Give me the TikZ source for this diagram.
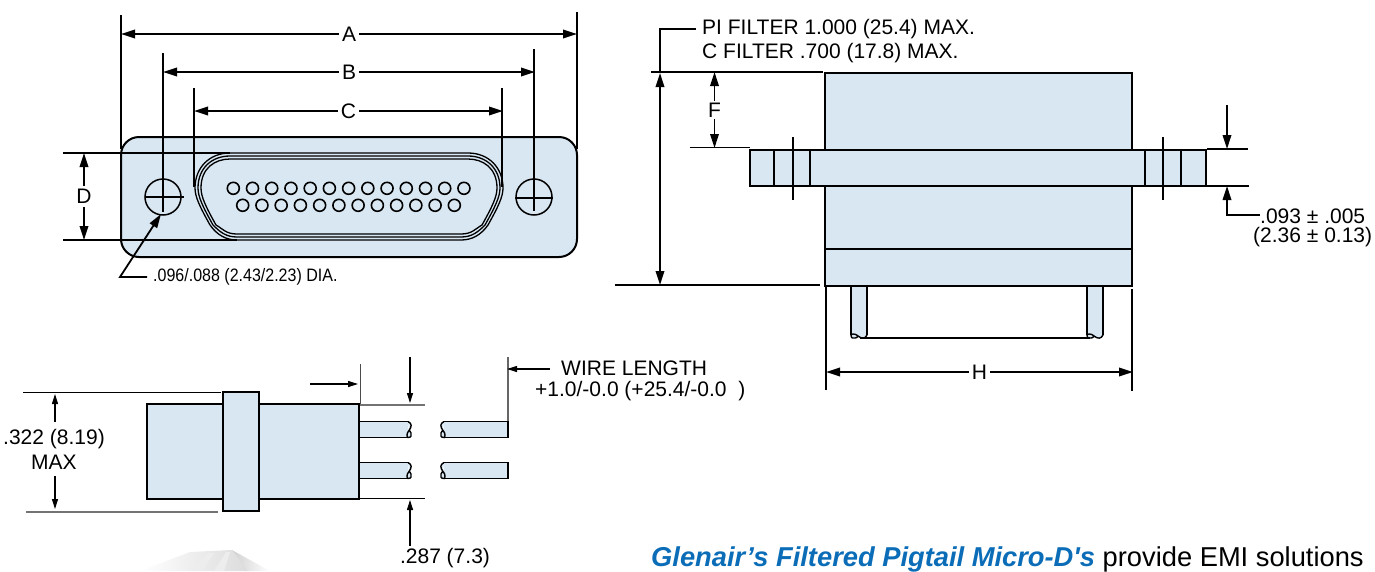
\documentclass[tikz,border=0pt]{standalone}
\usepackage{fontspec}
\setmainfont{Liberation Sans}[Ligatures=TeXOff]
\usetikzlibrary{arrows.meta}
\definecolor{panelblue}{HTML}{D8E7F2}
\definecolor{glenairblue}{HTML}{0B6DB7}
\tikzset{
  panel/.style={draw=black, fill=panelblue, line width=2pt},
  extline/.style={draw=black, line width=1.4pt},
  dimline/.style={draw=black, line width=1.8pt, {Triangle[length=14pt,width=8.5pt]}-{Triangle[length=14pt,width=8.5pt]}},
  tipend/.style={draw=black, line width=1.8pt, -{Triangle[length=14pt,width=8.5pt]}},
  thintip/.style={draw=black, line width=1.1pt, -{Triangle[length=10pt,width=6pt]}},
  dimlabel/.style={font=\fontsize{21}{21}\selectfont, fill=white, inner sep=3pt},
  notetext/.style={font=\fontsize{21}{23}\selectfont, inner sep=0pt, align=center},
  wirebreak/.pic={
    \filldraw[fill=panelblue, draw=black, line width=1.4pt] (0,0) .. controls (4,2) and (4,5) .. (1,9)
      .. controls (-2,12) and (-1,16) .. (0,16) .. controls (3,16) and (4,14) .. (3,11.5)
      .. controls (2.5,10) and (1.5,9) .. (1,9);
  }
}
\begin{document}
\begin{tikzpicture}[x=1pt, y=-1pt]
  \useasboundingbox (0,0) rectangle (1375,571);
  % faint swoosh along the bottom edge
  \begin{scope}
    \clip (0,0) rectangle (1375,571);
    \shade[left color=white, right color=black!14] (140,571) -- (190,552) -- (232,550) -- (250,571) -- cycle;
    \shade[left color=black!18, right color=white] (232,550) -- (270,571) -- (248,571) -- cycle;
    \fill[black!7] (190,571) -- (208,553) -- (214,553) -- (202,571) -- cycle;
    \fill[black!7] (214,571) -- (226,552) -- (230,552) -- (224,571) -- cycle;
  \end{scope}

  % front view
  \draw[panel, rounded corners=18pt] (121,137) rectangle (577,257);
  \foreach \d in {0, 3, 6} {
    \draw[line width=1.3pt] (230,{153+\d}) -- (468,{153+\d})
      .. controls ({489-\d},{153+\d}) and ({503-\d},168) .. ({503-\d},188)
      .. controls ({503-\d},197) and ({498-\d},207) .. ({488-\d},225)
      .. controls ({481-\d},{235-\d}) and (472,{240-\d}) .. (461,{240-\d})
      -- (237,{240-\d})
      .. controls (226,{240-\d}) and ({217+\d},{235-\d}) .. ({210+\d},225)
      .. controls ({200+\d},207) and ({195+\d},197) .. ({195+\d},188)
      .. controls ({195+\d},168) and ({209+\d},{153+\d}) .. (230,{153+\d});
  }
  \foreach \i in {0,...,12}
    \draw[line width=1.6pt, shift={({233.3+19.22*\i},188.3)}] (0,0) circle (6);
  \foreach \i in {0,...,11}
    \draw[line width=1.6pt, shift={({242.7+19.24*\i},205.3)}] (0,0) circle (6);
  \foreach \x in {163, 534}
    \draw[line width=1.5pt] (\x,197) circle (18);
  \draw[extline] (145,197) -- (184,197);
  \draw[extline] (515,198) -- (553,198);
  \draw[extline] (121,15) -- (121,149);
  \draw[extline] (577,12) -- (577,149);
  \draw[extline] (163,53) -- (163,212);
  \draw[extline] (534,49) -- (534,211);
  \draw[extline] (194,88) -- (194,187);
  \draw[extline] (502,88) -- (502,187);
  \draw[extline] (63,153) -- (230,153);
  \draw[extline] (63,240) -- (237,240);
  \draw[dimline] (121,34) -- (577,34) node[midway, dimlabel] (dimA) {A};
  \draw[dimline] (163,72) -- (535,72) node[midway, dimlabel] (dimB) {B};
  \draw[dimline] (194,111) -- (503,111) node[midway, dimlabel] (dimC) {C};
  \draw[dimline] (84,153) -- (84,240) node[midway, dimlabel] (dimD) {D};
  \node[notetext, font=\fontsize{18}{18}\selectfont, xscale=.89, anchor=west] (holeNote) at (153,277) {.096/.088 (2.43/2.23) DIA.};
  \draw[tipend] (147,277) -- (120,277) -- (161,214);

  % side view
  \draw[panel] (825,73) rectangle (1132,286);
  \draw[line width=1.6pt] (825,249) -- (1132,249);
  \draw[panel] (750,150) rectangle (1206,186);
  \foreach \x in {774, 810, 1145, 1181}
    \draw[line width=1.5pt] (\x,150) -- (\x,186);
  \foreach \x in {793, 1163}
    \draw[extline] (\x,137) -- (\x,200);
  \foreach \x in {867, 1103} {
    \fill[panelblue] ({\x-16},287) rectangle (\x,337);
    \draw[line width=1.5pt] (\x,287) -- (\x,335);
    \draw[line width=1.5pt] ({\x-16},287) -- ({\x-16},335);
    \path[shift={(\x,335)}] pic[rotate=-90] {wirebreak};
  }
  \draw[line width=1.5pt] (860,338) -- (1090,338);
  \draw[extline] (651,72) -- (823,72);
  \draw[extline] (615,285) -- (820,285);
  \draw[extline] (690,147.5) -- (750,147.5);
  \draw[extline] (1207,149) -- (1248,149);
  \draw[extline] (1207,186) -- (1249,186);
  \draw[extline] (826,287) -- (826,390);
  \draw[extline] (1132,289) -- (1132,391);
  \draw[dimline] (660,73) -- (660,285);
  \node[notetext, anchor=west] (piNote) at (702,29) {PI FILTER 1.000 (25.4) MAX.};
  \node[notetext, anchor=west] (cNote) at (702,53) {C FILTER .700 (17.8) MAX.};
  \draw[line width=1.8pt] (696,29) -- (660,29) -- (660,73);
  \draw[dimline] (714.5,72) -- (714.5,148) node[midway, dimlabel, inner sep=2pt] (dimF) {F};
  \draw[tipend] (1227,105) -- (1227,149);
  \draw[tipend] (1260,215) -- (1227,215) -- (1227,186);
  \node[notetext, anchor=west] (flangeNote) at (1260,216) {.093 ± .005};
  \node[notetext, anchor=west] (flangeNoteMm) at (1253,237) {(2.36 ± 0.13)};
  \draw[dimline] (826,372) -- (1133,372) node[midway, dimlabel] (dimH) {H};

  % pigtail view
  \draw[panel] (147,404) rectangle (359,499);
  \draw[panel] (223,392) rectangle (259,511);
  \foreach \y in {421.5, 462.5} {
    \fill[panelblue] (360,\y) rectangle (408,{\y+16});
    \draw[line width=1.3pt] (360,\y) -- (408,\y);
    \draw[line width=1.3pt] (360,{\y+16}) -- (408,{\y+16});
    \path[shift={(408,\y)}] pic {wirebreak};
    \fill[panelblue] (444,\y) rectangle (508,{\y+16});
    \draw[line width=1.3pt] (444,\y) -- (508,\y) -- (508,{\y+16}) -- (444,{\y+16});
    \path[shift={(444,\y)}] pic[xscale=-1] {wirebreak};
  }
  \draw[extline, line width=1pt] (23,392) -- (221,392);
  \draw[draw=black!55, line width=1.6pt] (26,512) -- (218,512);
  \draw[extline, line width=0.9pt, draw=black!70] (360,364) -- (360,404);
  \draw[draw=black!55, line width=1.2pt] (360,405) -- (425,405);
  \draw[extline, line width=1pt] (360,498) -- (425,498);
  \draw[draw=black!60, line width=1.1pt] (508,357) -- (508,421);
  \node[notetext, anchor=center] (heightNote) at (54,439) {.322 (8.19)};
  \node[notetext, anchor=center] (heightMax) at (54,462) {MAX};
  \draw[thintip] (55,422) -- (55,394);
  \draw[thintip] (55,476) -- (55,509);
  \draw[thintip] (310,384) -- (358,384);
  \draw[thintip] (410,357) -- (410,403);
  \draw[thintip] (410,546) -- (410,500);
  \node[notetext, anchor=center] (pitchNote) at (445,558) {.287 (7.3)};
  \draw[thintip] (550,369) -- (507,369);
  \node[notetext, anchor=west] (wireNote) at (561,368) {WIRE LENGTH};
  \node[notetext, anchor=west] (wireTol) at (535,391) {+1.0/-0.0 (+25.4/-0.0\ \ )};

  % caption line
  \node[font=\fontsize{27.3}{27.3}\selectfont, anchor=base west, inner sep=0pt] (caption) at (651,566)
    {\textcolor{glenairblue}{\bfseries\itshape Glenair’s Filtered Pigtail Micro-D's} provide EMI solutions};
\end{tikzpicture}
\end{document}
